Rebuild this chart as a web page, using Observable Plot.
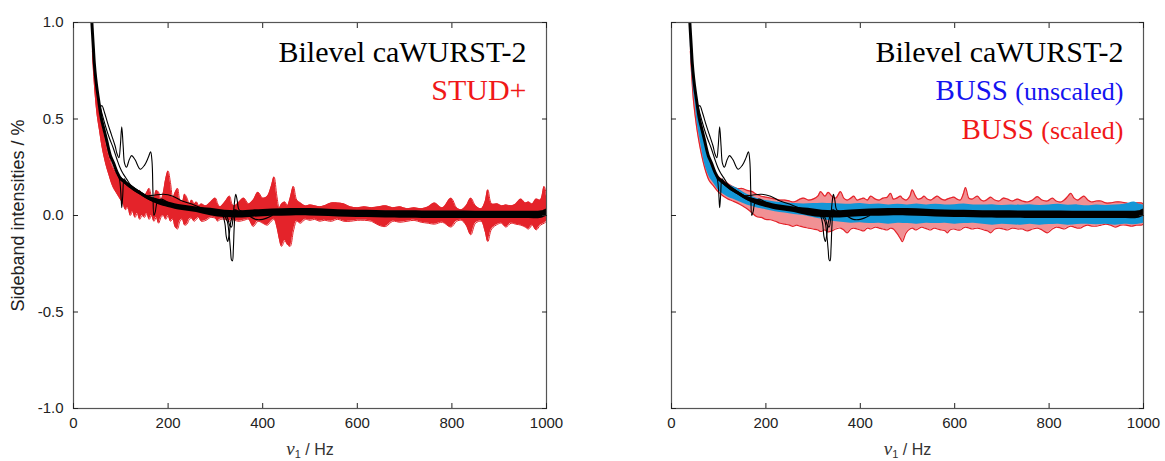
<!DOCTYPE html>
<html><head><meta charset="utf-8">
<script src="https://cdn.jsdelivr.net/npm/d3@7"></script>
<script src="https://cdn.jsdelivr.net/npm/@observablehq/plot@0.6"></script>
<style>
body{margin:0;background:#fff}
#wrap{display:flex;width:1165px;height:461px;background:#fff}
svg{display:block}
</style>
</head><body><div id="wrap"></div>
<script>
// ---------- ticks & labels ----------
const xTicks = [0, 200, 400, 600, 800, 1000];
const yTicks = [-1, -0.5, 0, 0.5, 1];
const yLabel = "Sideband intensities / %";
const xLabel = "ν1 / Hz";
const legendLeft = ["Bilevel caWURST-2", "STUD+"];
const legendRight = ["Bilevel caWURST-2", "BUSS (unscaled)", "BUSS (scaled)"];

// ---------- STUD+ envelope (left panel, red) ----------
const studX  = [40,43,46,50,55,60,65,70,75,80,85,90,95,100,105,110,115,120,125,130,135,140,145,150,155,160,165,170,175,180,185,190,195,200,205,210,215,220,225,230,235,240,245,250,255,260,265,270,280,290,300,305,310,320,330,335,340,350,360,370,380,390,400,410,418,424,430,435,440,447,452,458,465,472,480,490,500,510,520,530,545,558,572,585,600,615,630,645,660,675,690,705,720,735,750,763,780,798,810,820,830,840,850,862,870,876,884,897,905,914,925,935,946,955,962,970,978,987,995,1000];
const studHi = [0.93,0.82,0.73,0.64,0.55,0.48,0.42,0.36,0.31,0.27,0.24,0.22,0.2,0.19,0.17,0.165,0.16,0.15,0.14,0.14,0.12,0.13,0.11,0.1,0.12,0.14,0.1,0.09,0.13,0.12,0.08,0.12,0.19,0.23,0.17,0.09,0.12,0.14,0.08,0.07,0.11,0.09,0.06,0.08,0.06,0.07,0.05,0.06,0.05,0.07,0.09,0.06,0.045,0.07,0.1,0.06,0.05,0.07,0.09,0.06,0.08,0.12,0.09,0.1,0.15,0.2,0.1,0.04,0.06,0.07,0.05,0.09,0.15,0.08,0.065,0.05,0.055,0.05,0.045,0.05,0.065,0.065,0.06,0.045,0.04,0.045,0.04,0.045,0.05,0.04,0.045,0.035,0.04,0.035,0.045,0.065,0.04,0.09,0.04,0.03,0.05,0.09,0.05,0.035,0.07,0.133,0.06,0.06,0.05,0.055,0.05,0.06,0.085,0.065,0.07,0.06,0.085,0.08,0.15,0.1];
const studLo = [0.85,0.72,0.62,0.52,0.44,0.36,0.3,0.25,0.21,0.17,0.14,0.12,0.1,0.08,0.06,0.03,0.04,0,0.02,-0.01,0.01,-0.02,0,-0.01,0.01,-0.02,0,-0.03,-0.01,-0.04,-0.01,0,-0.02,0,-0.03,-0.02,-0.06,-0.07,-0.03,-0.02,-0.05,-0.045,-0.02,-0.015,-0.03,-0.02,-0.01,-0.03,-0.025,-0.01,-0.015,-0.03,-0.02,-0.02,-0.03,-0.02,-0.025,-0.03,-0.025,-0.02,-0.057,-0.03,-0.04,-0.05,-0.03,-0.02,-0.06,-0.12,-0.16,-0.13,-0.15,-0.16,-0.08,-0.03,-0.04,-0.02,-0.025,-0.02,-0.03,-0.025,-0.03,-0.02,-0.03,-0.03,-0.025,-0.025,-0.03,-0.05,-0.057,-0.03,-0.035,-0.03,-0.025,-0.035,-0.04,-0.045,-0.035,-0.06,-0.03,-0.025,-0.05,-0.1,-0.04,-0.03,-0.08,-0.135,-0.07,-0.045,-0.04,-0.06,-0.04,-0.045,-0.05,-0.06,-0.07,-0.05,-0.075,-0.05,-0.04,-0.03];

// ---------- BUSS scaled envelope (right panel, red) ----------
const bussSX  = [40,43,46,50,55,60,65,70,75,80,90,100,110,120,130,140,150,160,170,180,190,200,210,220,230,240,250,257,265,272,280,290,300,310,316,325,332,340,348,358,365,372,380,386,393,400,407,415,422,432,440,448,457,464,470,477,485,489,497,505,510,517,522,530,535,542,549,556,563,572,580,584,590,598,605,612,618,623,630,637,648,656,662,670,676,685,694,703,712,722,733,743,754,765,775,785,796,807,815,825,832,840,846,853,860,867,874,882,890,900,910,920,930,940,952,963,975,985,995,1000];
const bussSHi = [0.93,0.82,0.72,0.63,0.54,0.47,0.41,0.36,0.31,0.28,0.23,0.2,0.18,0.165,0.15,0.14,0.14,0.13,0.125,0.11,0.1,0.095,0.09,0.085,0.08,0.08,0.075,0.07,0.075,0.085,0.09,0.08,0.085,0.1,0.124,0.1,0.12,0.1,0.09,0.124,0.09,0.08,0.09,0.1,0.08,0.085,0.09,0.08,0.1,0.085,0.08,0.09,0.095,0.115,0.085,0.09,0.1,0.09,0.08,0.1,0.133,0.1,0.085,0.09,0.1,0.085,0.08,0.09,0.1,0.085,0.08,0.085,0.09,0.095,0.085,0.08,0.11,0.145,0.09,0.085,0.1,0.08,0.075,0.085,0.095,0.08,0.075,0.09,0.085,0.075,0.085,0.075,0.07,0.08,0.098,0.08,0.075,0.09,0.075,0.07,0.08,0.1,0.115,0.09,0.08,0.09,0.1,0.08,0.07,0.075,0.075,0.065,0.065,0.07,0.07,0.065,0.06,0.065,0.065,0.06];
const bussSLo = [0.85,0.72,0.61,0.52,0.43,0.36,0.3,0.25,0.21,0.18,0.15,0.12,0.1,0.085,0.075,0.064,0.05,0.035,0.015,-0.005,-0.01,-0.02,-0.022,-0.03,-0.04,-0.045,-0.05,-0.057,-0.05,-0.055,-0.06,-0.065,-0.07,-0.075,-0.083,-0.075,-0.085,-0.08,-0.07,-0.065,-0.075,-0.09,-0.07,-0.065,-0.07,-0.075,-0.08,-0.065,-0.07,-0.06,-0.065,-0.07,-0.075,-0.065,-0.07,-0.09,-0.12,-0.135,-0.09,-0.07,-0.065,-0.075,-0.07,-0.06,-0.065,-0.07,-0.075,-0.065,-0.07,-0.075,-0.08,-0.09,-0.075,-0.07,-0.075,-0.075,-0.065,-0.06,-0.065,-0.07,-0.065,-0.07,-0.075,-0.08,-0.09,-0.07,-0.065,-0.07,-0.075,-0.065,-0.07,-0.07,-0.08,-0.07,-0.065,-0.075,-0.09,-0.07,-0.06,-0.065,-0.07,-0.06,-0.055,-0.06,-0.065,-0.065,-0.055,-0.05,-0.055,-0.055,-0.05,-0.045,-0.05,-0.06,-0.05,-0.05,-0.055,-0.05,-0.05,-0.045];

// ---------- BUSS unscaled envelope (right panel, blue) ----------
const bussUX  = [40,43,46,50,55,60,65,70,75,80,90,100,110,120,130,140,150,160,170,180,200,220,240,260,280,300,320,340,360,380,400,420,440,460,480,500,520,540,560,580,600,620,640,660,680,700,720,740,760,780,800,820,840,860,880,900,920,940,960,980,990,1000];
const bussUHi = [0.95,0.84,0.75,0.66,0.57,0.5,0.44,0.39,0.33,0.29,0.23,0.195,0.175,0.16,0.15,0.14,0.125,0.11,0.1,0.09,0.078,0.07,0.066,0.062,0.06,0.062,0.064,0.062,0.06,0.058,0.062,0.057,0.06,0.055,0.058,0.055,0.06,0.055,0.058,0.054,0.056,0.06,0.055,0.054,0.056,0.052,0.055,0.053,0.056,0.052,0.055,0.058,0.053,0.055,0.05,0.054,0.052,0.055,0.058,0.07,0.06,0.055];
const bussULo = [0.88,0.76,0.66,0.58,0.47,0.4,0.33,0.27,0.23,0.2,0.165,0.13,0.11,0.095,0.085,0.075,0.065,0.055,0.048,0.04,0.03,0.02,0.013,0.005,0,-0.01,-0.02,-0.03,-0.035,-0.04,-0.038,-0.042,-0.04,-0.045,-0.04,-0.042,-0.045,-0.04,-0.042,-0.04,-0.045,-0.042,-0.04,-0.045,-0.05,-0.045,-0.048,-0.05,-0.045,-0.05,-0.047,-0.045,-0.05,-0.046,-0.045,-0.048,-0.045,-0.05,-0.045,-0.048,-0.045,-0.04];

// ---------- bilevel reference bundle (black) ----------
const meanX = [35,38,40,42,44,47,50,53,57,60,64,70,78,85,92,100,110,120,130,141,160,180,200];
const meanY = [1.2,1.04,0.95,0.87,0.79,0.71,0.65,0.6,0.53,0.49,0.45,0.39,0.31,0.27,0.225,0.19,0.17,0.15,0.132,0.117,0.088,0.07,0.056];
const bandX  = [100,120,140,160,180,200,230,260,290,320,350,380,420,460,500,540,580,620,660,700,750,800,850,900,950,990,1000];
const bandHi = [0.2,0.16,0.127,0.098,0.084,0.07,0.054,0.044,0.037,0.027,0.025,0.029,0.034,0.036,0.036,0.033,0.029,0.027,0.025,0.024,0.023,0.023,0.022,0.022,0.022,0.024,0.034];
const bandLo = [0.18,0.14,0.107,0.078,0.056,0.042,0.026,0.016,-0.001,-0.011,-0.013,-0.009,-0.004,-0.002,-0.002,-0.005,-0.009,-0.011,-0.013,-0.014,-0.015,-0.015,-0.016,-0.016,-0.016,-0.014,-0.004];

// outlier traces
const t1X = [57,60,66,72,80,88,92,96,99,102,105,108,112,118,123,130,141,150,158,163,166,168,170,173,177,185,195,210,230,250];
const t1Y = [0.56,0.57,0.53,0.48,0.42,0.36,0.32,0.3,0.36,0.46,0.36,0.27,0.25,0.29,0.31,0.29,0.24,0.26,0.3,0.33,0.28,0.12,0,0.02,0.07,0.085,0.075,0.055,0.04,0.03];
const t2X = [55,60,68,76,84,92,98,104,112,120,130,145,160];
const t2Y = [0.58,0.53,0.46,0.4,0.35,0.29,0.25,0.22,0.19,0.16,0.14,0.115,0.095];
const t3X = [92,97,100,102,104,107,112,120];
const t3Y = [0.22,0.19,0.12,0.04,0.1,0.19,0.17,0.15];
const t4X = [150,170,190,210,230,250,270,290];
const t4Y = [0.1,0.105,0.11,0.1,0.075,0.06,0.04,0.03];
const t5X = [290,305,318,325,329,332,334,336,338,340,343,348,356,370];
const t5Y = [0.015,0.01,0,-0.03,-0.1,-0.18,-0.23,-0.235,-0.17,-0.05,0.03,0.02,0.012,0.01];
const t6X = [290,305,315,320,323,326,329,332,336,340,345,352,365];
const t6Y = [0.015,0.01,0,-0.04,-0.11,-0.135,-0.1,-0.04,0,0.03,0.02,0.01,0.01];
const t7X = [300,315,325,330,334,337,340,343,346,350,358,370,385,400,420];
const t7Y = [0.01,0.005,-0.01,-0.05,-0.06,-0.02,0.06,0.11,0.08,0.03,0.02,0,-0.02,-0.02,0];

// ---------- build rows ----------
const env = (xs, hi, lo) => xs.map((x, i) => ({x, hi: hi[i], lo: lo[i]}));
const pts = (xs, ys, id) => xs.map((x, i) => ({x, y: ys[i], id}));
const studRows = env(studX, studHi, studLo);
const bussSRows = env(bussSX, bussSHi, bussSLo);
const bussURows = env(bussUX, bussUHi, bussULo);
const bandRows = env(bandX, bandHi, bandLo);
const meanRows = pts(meanX, meanY, "mean");
const traceRows = [
  ...pts(t1X, t1Y, "t1"), ...pts(t2X, t2Y, "t2"), ...pts(t3X, t3Y, "t3"),
  ...pts(t4X, t4Y, "t4"), ...pts(t5X, t5Y, "t5"), ...pts(t6X, t6Y, "t6"), ...pts(t7X, t7Y, "t7")
];

const RED = "#e4232a", BLUE = "#1496d6", TXTRED = "#f01818", TXTBLUE = "#1414f0";
const C = "catmull-rom";

function blackMarks() {
  return [
    Plot.areaY(bandRows, {x: "x", y1: "lo", y2: "hi", fill: "#000", curve: C, clip: true}),
    Plot.line(meanRows, {x: "x", y: "y", stroke: "#000", strokeWidth: 3, curve: C, clip: true}),
    Plot.line(traceRows, {x: "x", y: "y", z: "id", stroke: "#000", strokeWidth: 1.1, curve: C, clip: true})
  ];
}

function axes(showLabels) {
  return [
    Plot.frame({stroke: "#555", strokeWidth: 1.2}),
    Plot.axisX({ticks: xTicks, anchor: "bottom", tickSize: -5, tickPadding: 14, tickFormat: d => String(d), label: null}),
    Plot.axisX({ticks: xTicks, anchor: "top", tickSize: -5, tickFormat: () => "", label: null}),
    Plot.axisY({ticks: yTicks, anchor: "left", tickSize: -5, tickPadding: 15, tickFormat: showLabels ? (d => d.toFixed(1)) : (() => ""), label: null}),
    Plot.axisY({ticks: yTicks, anchor: "right", tickSize: -5, tickFormat: () => "", label: null}),
    Plot.text([xLabel], {frameAnchor: "bottom", textAnchor: "middle", dy: 41, lineAnchor: "middle", fontSize: 16, fill: "#333"})
  ];
}

function legendMarks(items, colors) {
  return items.map((t, i) => Plot.text([t], {
    frameAnchor: "top-right", textAnchor: "end", lineAnchor: "bottom",
    dx: -20, dy: 39 + i * 38.5, fontSize: 30, fontFamily: "Liberation Serif",
    fill: colors[i]
  }));
}

function make(opts) {
  return Plot.plot({
    width: opts.width, height: 461,
    marginLeft: opts.ml, marginRight: opts.mr, marginTop: 22, marginBottom: 53,
    x: {domain: [0, 1000]},
    y: {domain: [-1, 1]},
    style: {fontFamily: "Liberation Sans", fontSize: "15px", color: "#222", background: "#fff"},
    marks: opts.marks
  });
}

// find rendered text elements by their content
function textsWith(svg, content) {
  return d3.select(svg).selectAll("text").filter(function() { return this.textContent === content; });
}

function fixXLabel(svg) {
  textsWith(svg, xLabel).each(function() {
    const t = d3.select(this);
    t.text(null);
    t.append("tspan").attr("font-family", "Liberation Serif").attr("font-style", "italic").attr("font-size", 19).text("ν");
    t.append("tspan").attr("font-size", 11).attr("dy", 3).text("1");
    t.append("tspan").attr("dy", -3).text(" / Hz");
  });
}

// ---------- left panel ----------
const left = make({
  width: 583, ml: 73, mr: 37,
  marks: [
    Plot.areaY(studRows, {x: "x", y1: "lo", y2: "hi", fill: RED, curve: C, clip: true}),
    Plot.line(studRows, {x: "x", y: "hi", stroke: RED, strokeWidth: 1, curve: C, clip: true}),
    Plot.line(studRows, {x: "x", y: "lo", stroke: RED, strokeWidth: 1, curve: C, clip: true}),
    ...blackMarks(),
    ...axes(true),
    Plot.text([yLabel], {frameAnchor: "left", textAnchor: "middle", lineAnchor: "middle", dx: -55, rotate: -90, fontSize: 18, fill: "#222"}),
    ...legendMarks(legendLeft, ["#000", TXTRED])
  ]
});
fixXLabel(left);

// ---------- right panel ----------
const right = make({
  width: 582, ml: 88, mr: 22,
  marks: [
    Plot.areaY(bussSRows, {x: "x", y1: "lo", y2: "hi", fill: RED, fillOpacity: 0.5, curve: C, clip: true}),
    Plot.line(bussSRows, {x: "x", y: "hi", stroke: RED, strokeWidth: 1.2, curve: C, clip: true}),
    Plot.line(bussSRows, {x: "x", y: "lo", stroke: RED, strokeWidth: 1.2, curve: C, clip: true}),
    Plot.areaY(bussURows, {x: "x", y1: "lo", y2: "hi", fill: BLUE, curve: C, clip: true}),
    ...blackMarks(),
    ...axes(false),
    ...legendMarks(legendRight, ["#000", TXTBLUE, TXTRED])
  ]
});
fixXLabel(right);
// smaller parenthetical text in the BUSS labels
[legendRight[1], legendRight[2]].forEach(s => textsWith(right, s).each(function() {
  const t = d3.select(this);
  const k = s.indexOf(" (");
  t.text(null);
  t.append("tspan").attr("font-size", 29).text(s.slice(0, k + 1));
  t.append("tspan").attr("font-size", 26).text(s.slice(k + 1));
}));

document.getElementById("wrap").append(left, right);
</script>
</body></html>
